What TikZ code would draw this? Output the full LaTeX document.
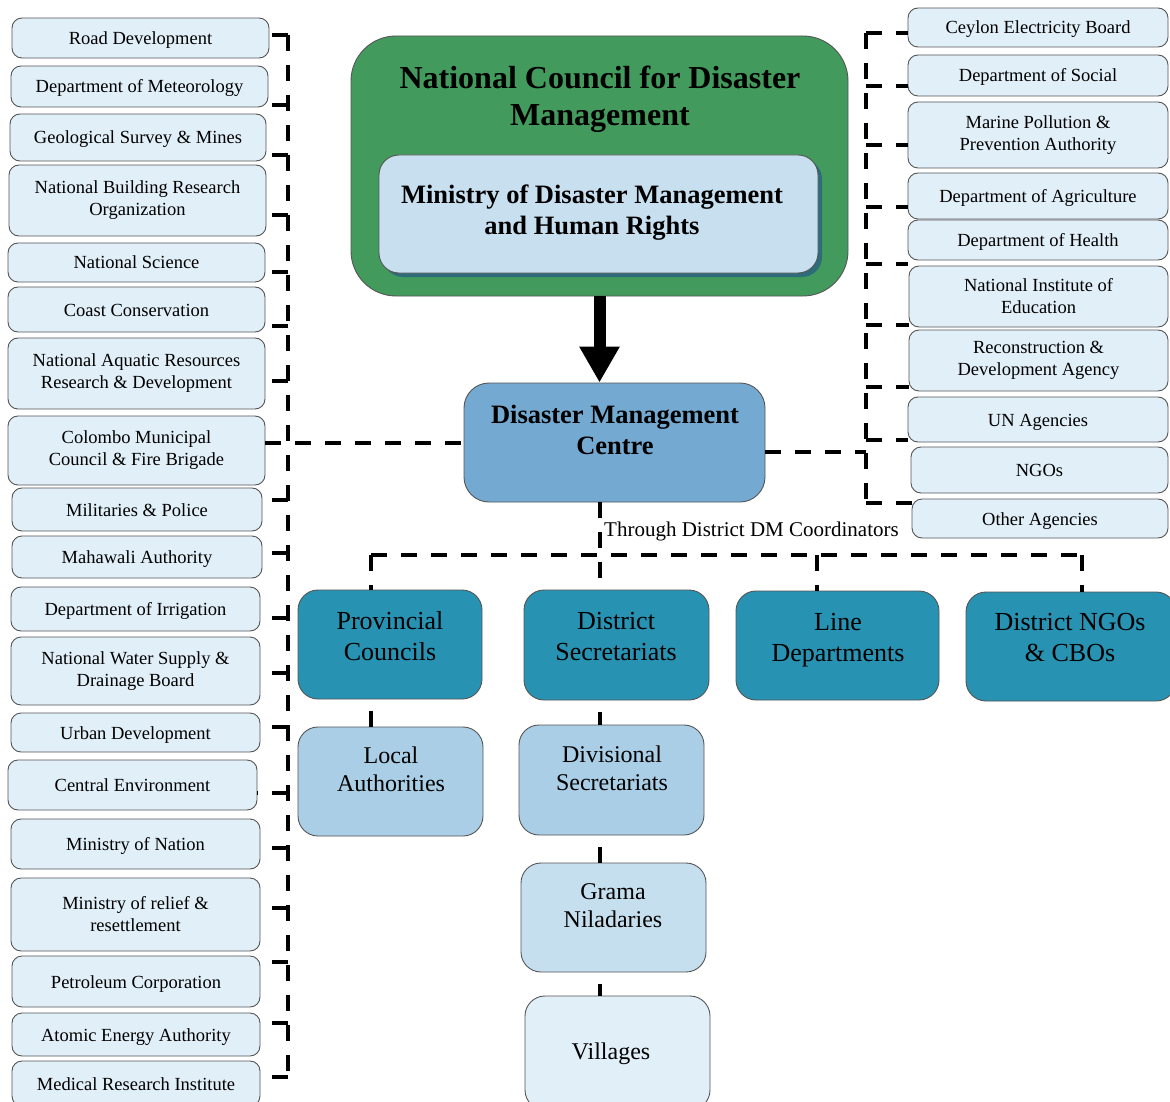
\documentclass[tikz,border=0pt]{standalone}
\usepackage{fontspec}
\setmainfont{Liberation Serif}
\usetikzlibrary{arrows.meta,shadows,calc}
\definecolor{paleblue}{RGB}{225,239,248}
\definecolor{bordc}{RGB}{85,85,85}
\definecolor{cgreen}{RGB}{66,155,92}
\definecolor{minblue}{RGB}{200,223,239}
\definecolor{shadowc}{RGB}{46,108,122}
\definecolor{dmcblue}{RGB}{116,169,209}
\definecolor{tealc}{RGB}{39,146,178}
\definecolor{lvlthree}{RGB}{169,206,229}
\definecolor{gramac}{RGB}{197,223,239}
\newcommand\mkbox[7]{\node[#6, minimum width={#4-#2}, minimum height={#5-#3}] (#1) at ({(#2+#4)/2},{(#3+#5)/2}) {#7};}
\tikzset{
  sidebox/.style={draw=bordc, line width=0.9pt, fill=paleblue, rounded corners=10pt, align=center,
    font=\fontsize{18.5}{22}\selectfont, inner sep=1pt},
  sideone/.style={sidebox, text height=14pt, text depth=1pt},
  bigbox/.style={draw=bordc, line width=0.9pt, rounded corners=20pt, inner sep=0pt},
  titletext/.style={align=center, font=\bfseries\fontsize{32}{37}\selectfont, inner sep=0pt},
  boldtext/.style={align=center, font=\bfseries\fontsize{26.5}{31}\selectfont, inner sep=0pt},
  lvltwotext/.style={align=center, font=\fontsize{26}{31}\selectfont, inner sep=0pt},
  lvlthreetext/.style={align=center, font=\fontsize{24}{28}\selectfont, inner sep=0pt},
  dl/.style={line width=4pt, dash pattern=on 16pt off 14pt},
  linkstub/.style={line width=4pt, shorten <=12pt}
}
\begin{document}
\begin{tikzpicture}[x=1pt,y=-1pt]
\useasboundingbox[fill=white] (0,0) rectangle (1170,1102);

% ---------- central hierarchy ----------
\mkbox{ncdm}{351}{36}{848}{296}{bigbox, fill=cgreen, rounded corners=45pt}{}
\node[titletext] (ncdmt) at (600,99) {National Council for Disaster\\Management};
\mkbox{mdm}{379}{155}{818}{273}{bigbox, fill=minblue, drop shadow={shadow xshift=4pt, shadow yshift=-4pt, fill=shadowc, opacity=1}}{}
\node[boldtext] (mdmt) at (592,213) {Ministry of Disaster Management\\and Human Rights};
\mkbox{dmc}{464}{383}{765}{502}{bigbox, fill=dmcblue, rounded corners=25pt}{}
\node[boldtext] (dmct) at (615,430) {Disaster Management\\Centre};

\mkbox{pc}{298}{590}{482}{699}{bigbox, fill=tealc}{}
\node[lvltwotext] (pct) at (390,636) {Provincial\\Councils};
\mkbox{ds}{524}{590}{709}{700}{bigbox, fill=tealc}{}
\node[lvltwotext] (dst) at (616,637) {District\\Secretariats};
\mkbox{ld}{736}{591}{939}{700}{bigbox, fill=tealc}{}
\node[lvltwotext] (ldt) at (838,640) {Line\\Departments};
\mkbox{dn}{966}{592}{1176}{701}{bigbox, fill=tealc}{}
\node[lvltwotext] (dnt) at (1070,638) {District NGOs\\\& CBOs};

\mkbox{la}{298}{727}{483}{836}{bigbox, fill=lvlthree}{}
\node[lvlthreetext] (lat) at (391,769) {Local\\Authorities};
\mkbox{dv}{519}{725}{704}{835}{bigbox, fill=lvlthree}{}
\node[lvlthreetext] (dvt) at (612,768) {Divisional\\Secretariats};
\mkbox{gn}{521}{863}{706}{972}{bigbox, fill=gramac}{}
\node[lvlthreetext] (gnt) at (613,906) {Grama\\Niladaries};
\mkbox{vl}{525}{996}{710}{1110}{bigbox, fill=paleblue}{}
\node[lvlthreetext] (vlt) at (611,1054) {Villages};

% ---------- left column ----------
\mkbox{rd}{12}{18}{269}{58}{sideone}{Road Development}
\mkbox{dm}{11}{66}{268}{107}{sideone}{Department of Meteorology}
\mkbox{gs}{10}{114}{266}{161}{sideone}{Geological Survey \& Mines}
\mkbox{nb}{9}{165}{266}{236}{sidebox}{National Building Research\\Organization}
\mkbox{ns}{8}{243}{265}{282}{sideone}{National Science}
\mkbox{cc}{8}{287}{265}{332}{sideone}{Coast Conservation}
\mkbox{na}{8}{338}{265}{409}{sidebox}{National Aquatic Resources\\Research \& Development}
\mkbox{cm}{8}{416}{265}{485}{sidebox}{Colombo Municipal\\Council \& Fire Brigade}
\mkbox{mp}{12}{488}{262}{531}{sideone}{Militaries \& Police}
\mkbox{ma}{12}{536}{262}{578}{sideone}{Mahawali Authority}
\mkbox{di}{11}{587}{260}{631}{sideone}{Department of Irrigation}
\mkbox{nw}{11}{637}{260}{705}{sidebox}{National Water Supply \&\\Drainage Board}
\mkbox{ud}{11}{713}{260}{752}{sideone}{Urban Development}
\mkbox{ce}{8}{760}{257}{810}{sideone}{Central Environment}
\mkbox{mn}{11}{819}{260}{869}{sideone}{Ministry of Nation}
\mkbox{mr}{11}{878}{260}{951}{sidebox}{Ministry of relief \&\\resettlement}
\mkbox{pt}{12}{956}{260}{1007}{sideone}{Petroleum Corporation}
\mkbox{ae}{12}{1013}{260}{1056}{sideone}{Atomic Energy Authority}
\mkbox{mri}{12}{1061}{260}{1106}{sideone}{Medical Research Institute}

% ---------- right column ----------
\mkbox{ceb}{908}{8}{1168}{47}{sideone}{Ceylon Electricity Board}
\mkbox{dsw}{908}{55}{1168}{96}{sideone}{Department of Social}
\mkbox{mpa}{908}{102}{1168}{168}{sidebox}{Marine Pollution \&\\Prevention Authority}
\mkbox{dag}{908}{173}{1168}{219}{sideone}{Department of Agriculture}
\mkbox{dhe}{908}{220}{1168}{260}{sideone}{Department of Health}
\mkbox{nie}{909}{266}{1168}{327}{sidebox}{National Institute of\\Education}
\mkbox{rda}{909}{330}{1168}{391}{sidebox}{Reconstruction \&\\Development Agency}
\mkbox{una}{908}{397}{1168}{442}{sideone}{UN Agencies}
\mkbox{ngo}{911}{447}{1168}{493}{sideone}{NGOs}
\mkbox{oag}{912}{499}{1168}{538}{sideone}{Other Agencies}

% ---------- connectors ----------
\draw[line width=12pt, -{Triangle[width=38pt,length=36pt]}] (ncdm.south) -- (ncdm.south |- dmc.north);

% left bus
\coordinate (lbt) at (288,35);
\coordinate (lbb) at (288,1077);
\draw[dl] (lbt) -- (lbb);
\foreach \n/\yy in {rd/35,dm/105,gs/155,nb/215,ns/272,cc/326,na/381,mp/500,ma/553,di/618,nw/673,ud/727,ce/793,mn/848,mr/908,pt/962,ae/1023,mri/1077}
  \draw[dl] (lbt |- 0,\yy) -- (\n.east |- 0,\yy);
\draw[dl] (cm.east |- dmc.west) -- (dmc.west);

% right bus
\coordinate (rbt) at (866,33);
\coordinate (rbb) at (866,503);
\draw[dl] (rbt) -- (rbb);
\foreach \n/\yy in {ceb/33,dsw/86,mpa/145,dag/207,dhe/264,nie/325,rda/387,una/440,oag/503}
  \draw[dl] (rbt |- 0,\yy) -- (\n.west |- 0,\yy);
\draw[dl] (dmc.east |- 0,452) -- (rbt |- 0,452);

% lower distribution
\coordinate (hl) at (371,555);
\coordinate (hr) at (1082,555);
\coordinate (hm) at (600,555);
\coordinate (hq) at (817,555);
\draw[dl] (hl) -- (hr);
\draw[dl] (hm |- dmc.south) -- (hm |- ds.north);
\draw[dl] (hl) -- (hl |- pc.north);
\draw[dl] (hq) -- (hq |- ld.north);
\draw[dl] (hr) -- (hr |- dn.north);
\node[anchor=west, inner sep=0pt, font=\fontsize{21}{25}\selectfont] (thr) at (604,531) {Through District DM Coordinators};

% vertical chains
\draw[linkstub] (hl |- pc.south) -- (hl |- la.north);
\draw[linkstub] (hm |- ds.south) -- (hm |- dv.north);
\draw[linkstub] (hm |- dv.south) -- (hm |- gn.north);
\draw[linkstub] (hm |- gn.south) -- (hm |- vl.north);
\end{tikzpicture}
\end{document}
